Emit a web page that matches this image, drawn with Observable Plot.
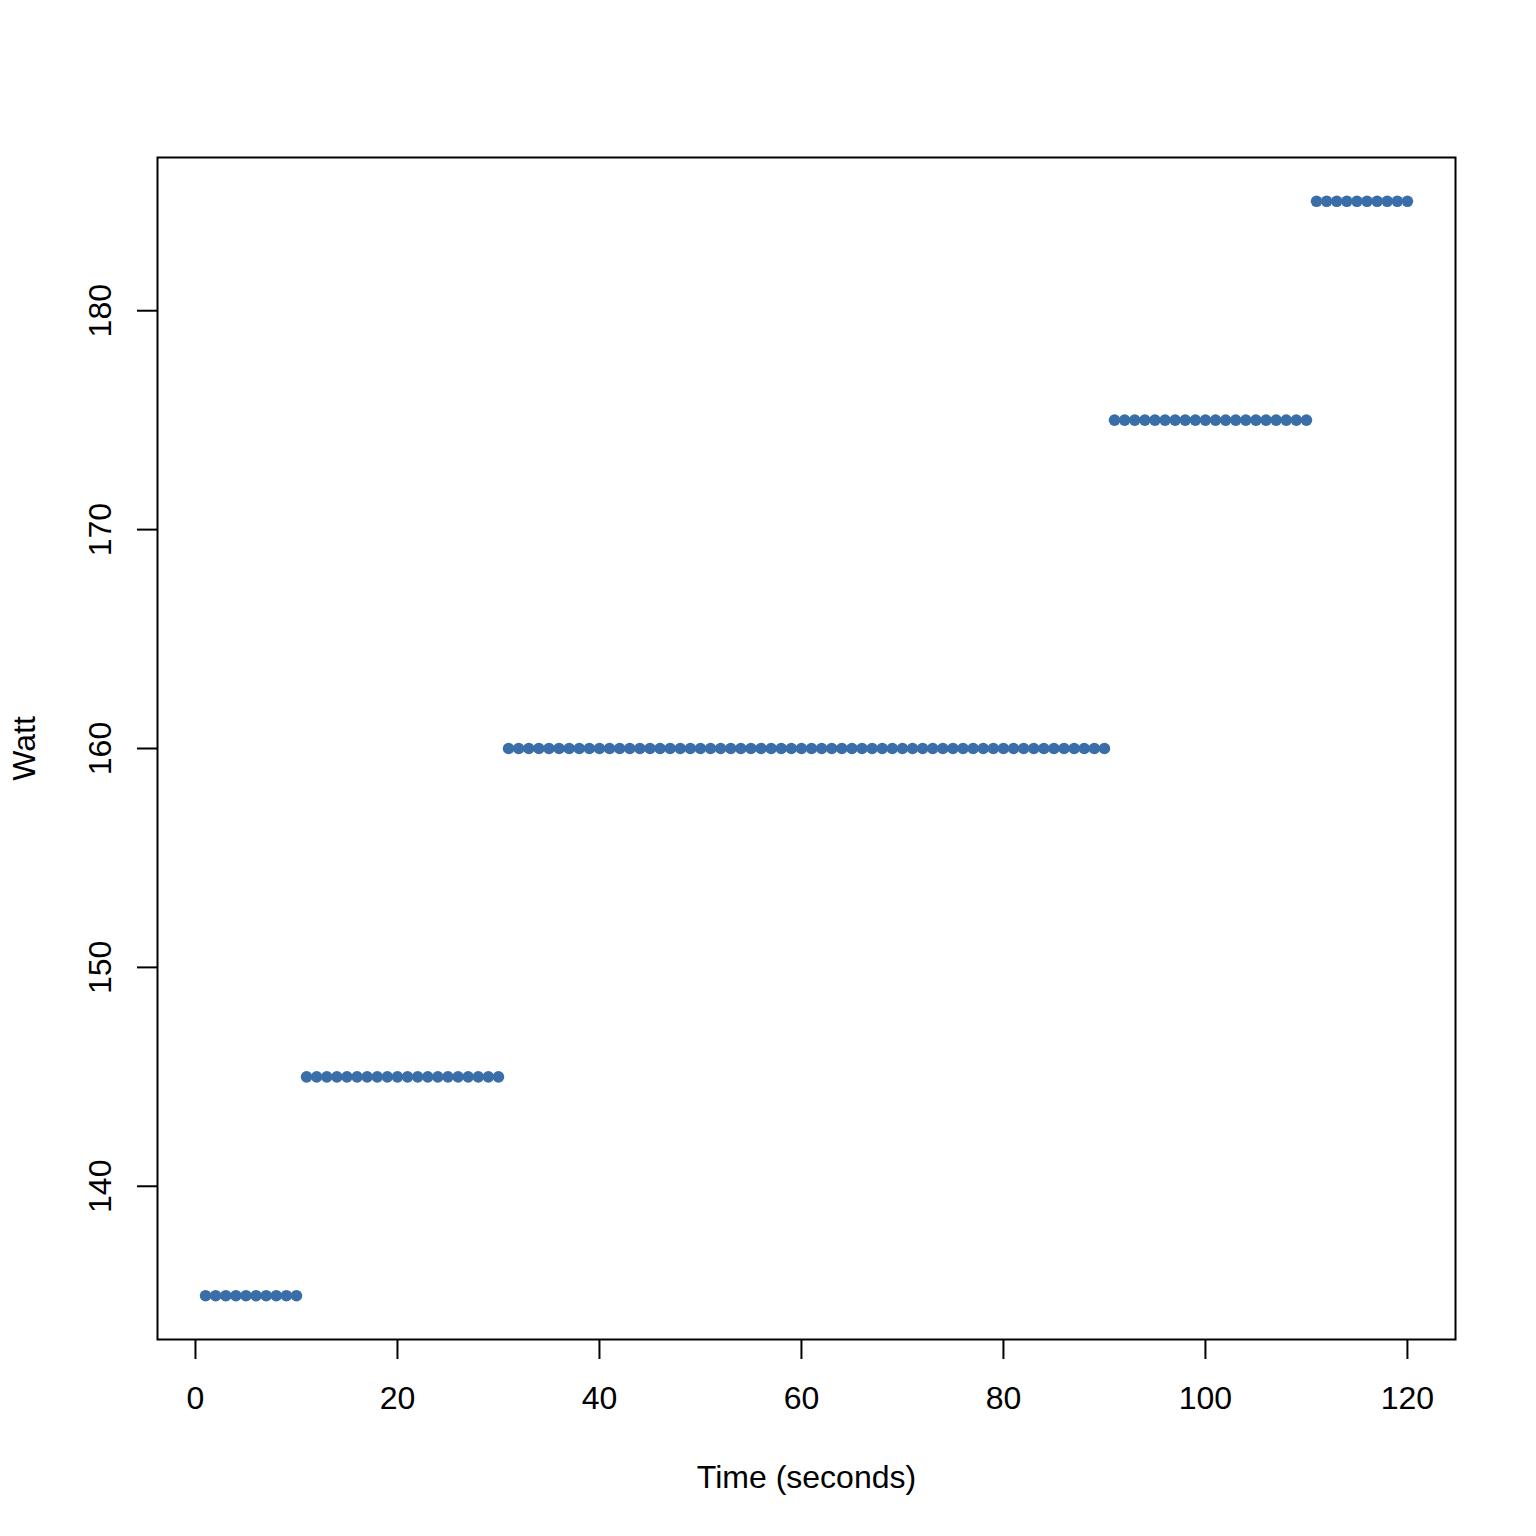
<!DOCTYPE html>
<html>
<head>
<meta charset="utf-8">
<script src="https://cdn.jsdelivr.net/npm/d3@7"></script>
<script src="https://cdn.jsdelivr.net/npm/@observablehq/plot@0.6"></script>
<style>
html, body { margin: 0; padding: 0; background: #ffffff; }
</style>
</head>
<body>
<div id="chart"></div>
<script>
const seconds = [
  1, 2, 3, 4, 5, 6, 7, 8, 9, 10,
  11, 12, 13, 14, 15, 16, 17, 18, 19, 20,
  21, 22, 23, 24, 25, 26, 27, 28, 29, 30,
  31, 32, 33, 34, 35, 36, 37, 38, 39, 40,
  41, 42, 43, 44, 45, 46, 47, 48, 49, 50,
  51, 52, 53, 54, 55, 56, 57, 58, 59, 60,
  61, 62, 63, 64, 65, 66, 67, 68, 69, 70,
  71, 72, 73, 74, 75, 76, 77, 78, 79, 80,
  81, 82, 83, 84, 85, 86, 87, 88, 89, 90,
  91, 92, 93, 94, 95, 96, 97, 98, 99, 100,
  101, 102, 103, 104, 105, 106, 107, 108, 109, 110,
  111, 112, 113, 114, 115, 116, 117, 118, 119, 120
];
const watts = [
  135, 135, 135, 135, 135, 135, 135, 135, 135, 135,
  145, 145, 145, 145, 145, 145, 145, 145, 145, 145,
  145, 145, 145, 145, 145, 145, 145, 145, 145, 145,
  160, 160, 160, 160, 160, 160, 160, 160, 160, 160,
  160, 160, 160, 160, 160, 160, 160, 160, 160, 160,
  160, 160, 160, 160, 160, 160, 160, 160, 160, 160,
  160, 160, 160, 160, 160, 160, 160, 160, 160, 160,
  160, 160, 160, 160, 160, 160, 160, 160, 160, 160,
  160, 160, 160, 160, 160, 160, 160, 160, 160, 160,
  175, 175, 175, 175, 175, 175, 175, 175, 175, 175,
  175, 175, 175, 175, 175, 175, 175, 175, 175, 175,
  185, 185, 185, 185, 185, 185, 185, 185, 185, 185
];
const xTicks = [0, 20, 40, 60, 80, 100, 120];
const yTicks = [140, 150, 160, 170, 180];
const xTitle = "Time (seconds)";
const yTitle = "Watt";

const data = seconds.map((t, i) => ({t, w: watts[i]}));
const FONT = "Liberation Sans, Arial, Helvetica, sans-serif";
const FS = 32;

const chart = Plot.plot({
  width: 1536,
  height: 1536,
  marginLeft: 157,
  marginRight: 81,
  marginTop: 157,
  marginBottom: 197,
  style: {fontFamily: FONT, fontSize: FS + "px", color: "black", background: "white"},
  x: {domain: [-3.76, 124.76]},
  y: {domain: [133, 187]},
  marks: [
    Plot.frame({stroke: "black", strokeWidth: 2}),
    Plot.axisX({ticks: xTicks, tickSize: 20, tickPadding: 27, tickFormat: d => String(d), fontSize: FS, strokeWidth: 2, label: null}),
    Plot.axisY({ticks: yTicks, tickSize: 20, tickFormat: () => "", strokeWidth: 2, label: null}),
    Plot.text(yTicks, {y: d => d, text: d => String(d), frameAnchor: "left", textAnchor: "middle", lineAnchor: "middle", dx: -57, rotate: -90, fontSize: FS, fill: "black"}),
    Plot.text([xTitle], {text: d => d, frameAnchor: "bottom", textAnchor: "middle", lineAnchor: "middle", dy: 138, fontSize: FS, fill: "black"}),
    Plot.text([yTitle], {text: d => d, frameAnchor: "left", textAnchor: "middle", lineAnchor: "middle", dx: -133, rotate: -90, fontSize: FS, fill: "black"}),
    Plot.dot(data, {x: "t", y: "w", r: 5.8, fill: "#3a6ea8", stroke: "none"})
  ]
});
document.getElementById("chart").appendChild(chart);
</script>
</body>
</html>
